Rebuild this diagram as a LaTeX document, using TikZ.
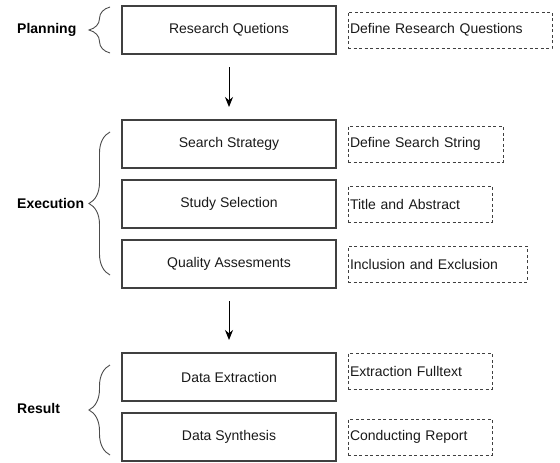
\documentclass[tikz,border=0pt]{standalone}
\usepackage{fontspec}
\setmainfont{Liberation Sans}
\usetikzlibrary{positioning,decorations.pathreplacing,arrows.meta}

\begin{document}
\begin{tikzpicture}[x=1pt, y=-1pt, font=\fontsize{14}{16}\selectfont,
	stage/.style={draw=black!75, line width=1.1pt, minimum width=214pt, minimum height=48pt, inner sep=0pt, outer sep=0pt, text=black!90},
	note/.style={draw=black!75, dash pattern=on 3pt off 2.5pt, line width=1pt, minimum height=36pt, inner xsep=2pt, inner ysep=0pt, outer sep=0pt, text width=#1, align=left, text=black!90},
	phase/.style={font=\fontsize{14}{16}\selectfont\bfseries, anchor=west, inner sep=0pt},
	curly/.style={decorate, decoration={brace, amplitude=21pt}, line width=0.9pt, draw=black!70},
	flow/.style={-{Stealth[length=10pt,width=8pt]}, line width=1pt, shorten <=13pt, shorten >=13pt}]
	\useasboundingbox (0,0) rectangle (560,463);
	\node[stage] (rq) at (229,30) {Research Quetions};
	\node[stage, below=66pt of rq] (ss) {Search Strategy};
	\node[stage, below=12pt of ss] (sel) {Study Selection};
	\node[stage, below=12pt of sel] (qa) {Quality Assesments};
	\node[stage, below=65pt of qa] (de) {Data Extraction};
	\node[stage, below=12pt of de] (ds) {Data Synthesis};
	\node[note=200pt, right=12pt of rq] (rqn) {Define Research Questions};
	\node[note=151pt, right=12pt of ss] (ssn) {Define Search String};
	\node[note=140pt, right=12pt of sel] (seln) {Title and Abstract};
	\node[note=175pt, right=12pt of qa] (qan) {Inclusion and Exclusion};
	\node[note=140pt, anchor=north west] (den) at ([xshift=12pt]de.north east) {Extraction Fulltext};
	\node[note=140pt, right=12pt of ds] (dsn) {Conducting Report};
	\draw[flow] (rq) -- (ss);
	\draw[flow] (qa) -- (de);
	\coordinate (pa) at (110,53);
	\coordinate (pb) at (110,7);
	\coordinate (ea) at (110,275);
	\coordinate (eb) at (110,132);
	\coordinate (ra) at (110,455);
	\coordinate (rb) at (110,365);
	\draw[curly] (pa) -- (pb);
	\draw[curly] (ea) -- (eb);
	\draw[curly] (ra) -- (rb);
	\node[phase] (plan) at (17,30) {Planning};
	\node[phase] (exec) at (17,203) {Execution};
	\node[phase] (res) at (17,408) {Result};
\end{tikzpicture}
\end{document}
